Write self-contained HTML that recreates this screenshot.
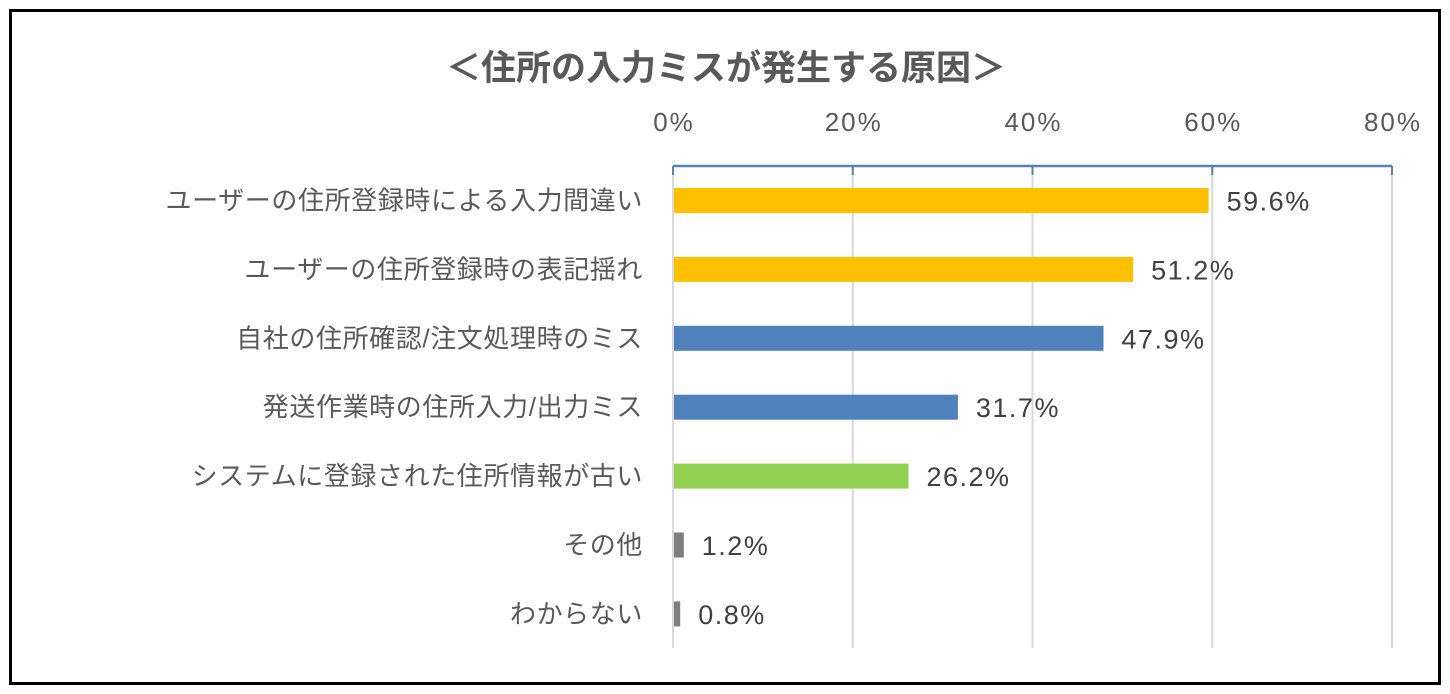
<!DOCTYPE html>
<html><head><meta charset="utf-8"><style>
html,body{margin:0;padding:0;background:#fff}
body{width:1450px;height:694px;overflow:hidden;position:relative;font-family:"Liberation Sans","Noto Sans CJK JP",sans-serif}
</style></head><body>
<div style="position:absolute;left:9px;top:9px;width:1426px;height:670px;border:3px solid #000"></div>
<svg width="1450" height="694" style="position:absolute;left:0;top:0">
<text x="726" y="80" text-anchor="middle" font-size="35" font-weight="bold" fill="#595959" font-family="Liberation Sans, Noto Sans CJK JP, sans-serif">＜住所の入力ミスが発生する原因＞</text>
<g id="grid"></g><g id="bars"></g>
</svg>
<script>
const categories=["ユーザーの住所登録時による入力間違い","ユーザーの住所登録時の表記揺れ","自社の住所確認/注文処理時のミス","発送作業時の住所入力/出力ミス","システムに登録された住所情報が古い","その他","わからない"];
const values=[59.6,51.2,47.9,31.7,26.2,1.2,0.8];
const colors=["#ffc000","#ffc000","#4f81bd","#4f81bd","#92d050","#7f7f7f","#7f7f7f"];
const ticks=[0,20,40,60,80];
const NS="http://www.w3.org/2000/svg";
const x0=673,x1=1392,xmax=80;
const xs=v=>x0+(x1-x0)*v/xmax;
const yTop=166,band=68.9,barH=25;
const yc=i=>200.5+band*i;
const grid=document.getElementById('grid'),bars=document.getElementById('bars');
function mk(tag,at,p){const e=document.createElementNS(NS,tag);for(const k in at)e.setAttribute(k,at[k]);p.appendChild(e);return e;}
ticks.forEach(t=>{
 const g=mk('line',{x1:xs(t),x2:xs(t),y1:yTop,y2:648,stroke:"#d9d9d9","stroke-width":2},grid);
 
 
 const tk=mk('line',{x1:xs(t),x2:xs(t),y1:yTop,y2:175,stroke:"#5b80b2","stroke-width":2},grid);
 
 
 const l=mk('text',{x:xs(t)+1,y:131,"text-anchor":"middle","font-size":26,"letter-spacing":2,fill:"#595959"},grid);
 l.textContent=t+"%";
 
 
});
const ax=mk('line',{x1:x0,x2:x1,y1:yTop,y2:yTop,stroke:"#5b80b2","stroke-width":2.5},grid);


values.forEach((v,i)=>{
 const r=mk('rect',{x:x0+1,y:yc(i)-barH/2,width:xs(v)-x0-1,height:barH,fill:colors[i]},bars);
 
 
 const c=mk('text',{x:643,y:yc(i)+9,"text-anchor":"end","font-size":26,"letter-spacing":0.6,fill:"#595959"},bars);
 c.textContent=categories[i];
 
 
 const vl=mk('text',{x:xs(v)+18,y:yc(i)+10,"font-size":27,"letter-spacing":1.5,fill:"#404040"},bars);
 vl.textContent=v.toFixed(1)+"%";
 
 
});
</script>
</body></html>
